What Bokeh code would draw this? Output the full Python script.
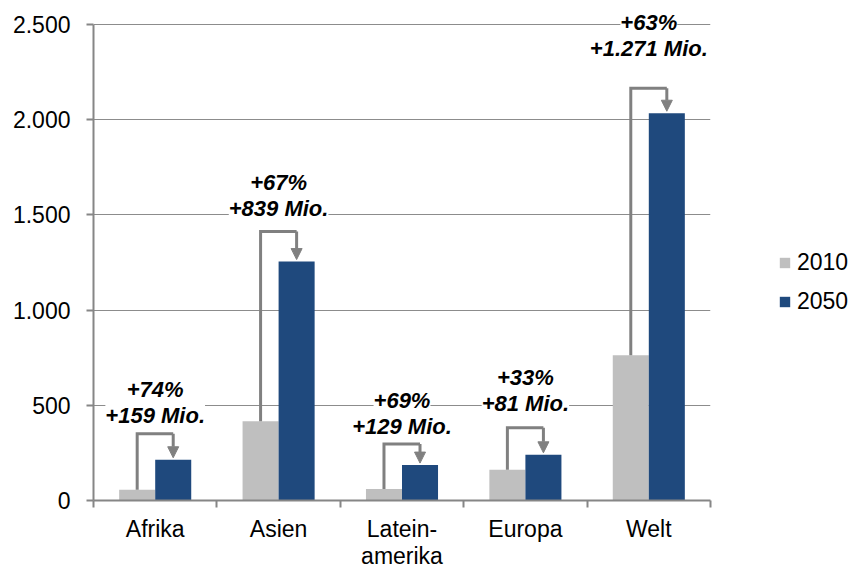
from bokeh.plotting import figure
from bokeh.models import (ColumnDataSource, Range1d, FixedTicker, Legend, LegendItem,
                          LabelSet, Arrow, NormalHead)
from bokeh.core.properties import value
from bokeh.embed import file_html
from bokeh.resources import INLINE

categories = ["Afrika", "Asien", "Latein-\namerika", "Europa", "Welt"]
series = ["2010", "2050"]
v2010 = [57, 416, 60, 162, 763]
v2050 = [214, 1255, 186, 240, 2034]
pct_labels = ["+74%", "+67%", "+69%", "+33%", "+63%"]
mio_labels = ["+159 Mio.", "+839 Mio.", "+129 Mio.", "+81 Mio.", "+1.271 Mio."]
y_ticks = [0, 500, 1000, 1500, 2000, 2500]
y_tick_labels = ["0", "500", "1.000", "1.500", "2.000", "2.500"]

# ---- styles / placement (not data) ----
GRAY = "#BFBFBF"
BLUE = "#1F497D"
LINE = "#808080"
AXIS = "#868686"
FONT = "Liberation Sans"
BAR_W = 0.292
FRAME_H = 476                        # pixel height of the 0..2500 span
Y_MAX = 2500
PX = Y_MAX / FRAME_H                 # data units per pixel
EXTRA_PX = 20                        # headroom above 2500 for the top label
CONNECTOR_RISE_PX = [26, 30, 21, 27, 25]   # connector height above 2050 bar
LABEL_LIFT_PX = [18, 23, 18, 24, 40]       # label (2nd line) above connector
TIP_GAP_PX = 2

n = len(categories)
centers = [i + 0.5 for i in range(n)]
gx = [c - BAR_W / 2 for c in centers]
bx = [c + BAR_W / 2 for c in centers]
lvl = [b + r * PX for b, r in zip(v2050, CONNECTOR_RISE_PX)]
tip = [b + TIP_GAP_PX * PX for b in v2050]
mio_y = [l + d * PX for l, d in zip(lvl, LABEL_LIFT_PX)]

src = ColumnDataSource(dict(
    center=centers, gx=gx, bx=bx, v2010=v2010, v2050=v2050, lvl=lvl, tip=tip,
    mio_y=mio_y, pct=pct_labels, mio=mio_labels,
))

p = figure(frame_width=617, frame_height=FRAME_H + EXTRA_PX,
           x_range=Range1d(0, n), y_range=Range1d(0, Y_MAX + EXTRA_PX * PX),
           output_backend="svg", toolbar_location=None,
           min_border_left=93, min_border_top=24 - EXTRA_PX, min_border_right=140,
           min_border_bottom=40)
p.outline_line_color = None
p.background_fill_color = "white"
p.border_fill_color = "white"

p.xgrid.visible = False
p.ygrid.ticker = FixedTicker(ticks=y_ticks)
p.ygrid.grid_line_color = "#8c8c8c"
p.ygrid.grid_line_width = 1

yax = p.yaxis[0]
yax.ticker = FixedTicker(ticks=y_ticks)
yax.bounds = (0, Y_MAX)
yax.major_label_overrides = {t: l for t, l in zip(y_ticks, y_tick_labels)}
yax.minor_tick_line_color = None
yax.major_tick_in = 0
yax.major_tick_out = 7
yax.major_tick_line_color = AXIS
yax.major_tick_line_width = 2
yax.axis_line_color = AXIS
yax.axis_line_width = 2
yax.major_label_text_font = FONT
yax.major_label_text_font_size = "23px"
yax.major_label_text_color = "black"
yax.major_label_standoff = 16

xax = p.xaxis[0]
xax.ticker = FixedTicker(ticks=centers, minor_ticks=list(range(n + 1)))
xax.major_label_overrides = {c: l for c, l in zip(centers, categories)}
xax.major_tick_line_color = None
xax.major_tick_in = 0
xax.major_tick_out = 0
xax.minor_tick_in = 0
xax.minor_tick_out = 7
xax.minor_tick_line_color = AXIS
xax.minor_tick_line_width = 2
xax.axis_line_color = AXIS
xax.axis_line_width = 2
xax.major_label_text_font = FONT
xax.major_label_text_font_size = "23px"
xax.major_label_text_color = "black"
xax.major_label_text_line_height = 1.05
xax.major_label_standoff = 8

r1 = p.vbar(x="gx", top="v2010", width=BAR_W, source=src, fill_color=GRAY, line_color=None)
r2 = p.vbar(x="bx", top="v2050", width=BAR_W, source=src, fill_color=BLUE, line_color=None)

p.multi_line(xs=[[a, a, b] for a, b in zip(gx, bx)],
             ys=[[g, l, l] for g, l in zip(v2010, lvl)],
             line_color=LINE, line_width=3, line_join="miter")

p.add_layout(Arrow(end=NormalHead(size=11, fill_color=LINE, line_color=LINE),
                   x_start="bx", y_start="lvl", x_end="bx", y_end="tip",
                   source=src, line_color=LINE, line_width=3))

label_style = dict(text_align="center", text_baseline="middle",
                   text_font=value(FONT), text_font_style="bold italic",
                   text_font_size=value("22px"), text_color="black",
                   background_fill_color="white")
p.add_layout(LabelSet(x="center", y="mio_y", text="mio", source=src, y_offset=0, **label_style))
p.add_layout(LabelSet(x="center", y="mio_y", text="pct", source=src, y_offset=26, **label_style))

legend = Legend(items=[LegendItem(label=series[0], renderers=[r1]),
                       LegendItem(label=series[1], renderers=[r2])],
                location=(68, 185), orientation="vertical",
                glyph_width=13, glyph_height=13, label_height=13,
                label_standoff=6, spacing=12, padding=0, margin=0,
                border_line_color=None, background_fill_alpha=0,
                label_text_font=FONT, label_text_font_size="23px",
                label_text_color="black")
p.add_layout(legend, "right")

open("out.html", "w").write(file_html(p, INLINE))
